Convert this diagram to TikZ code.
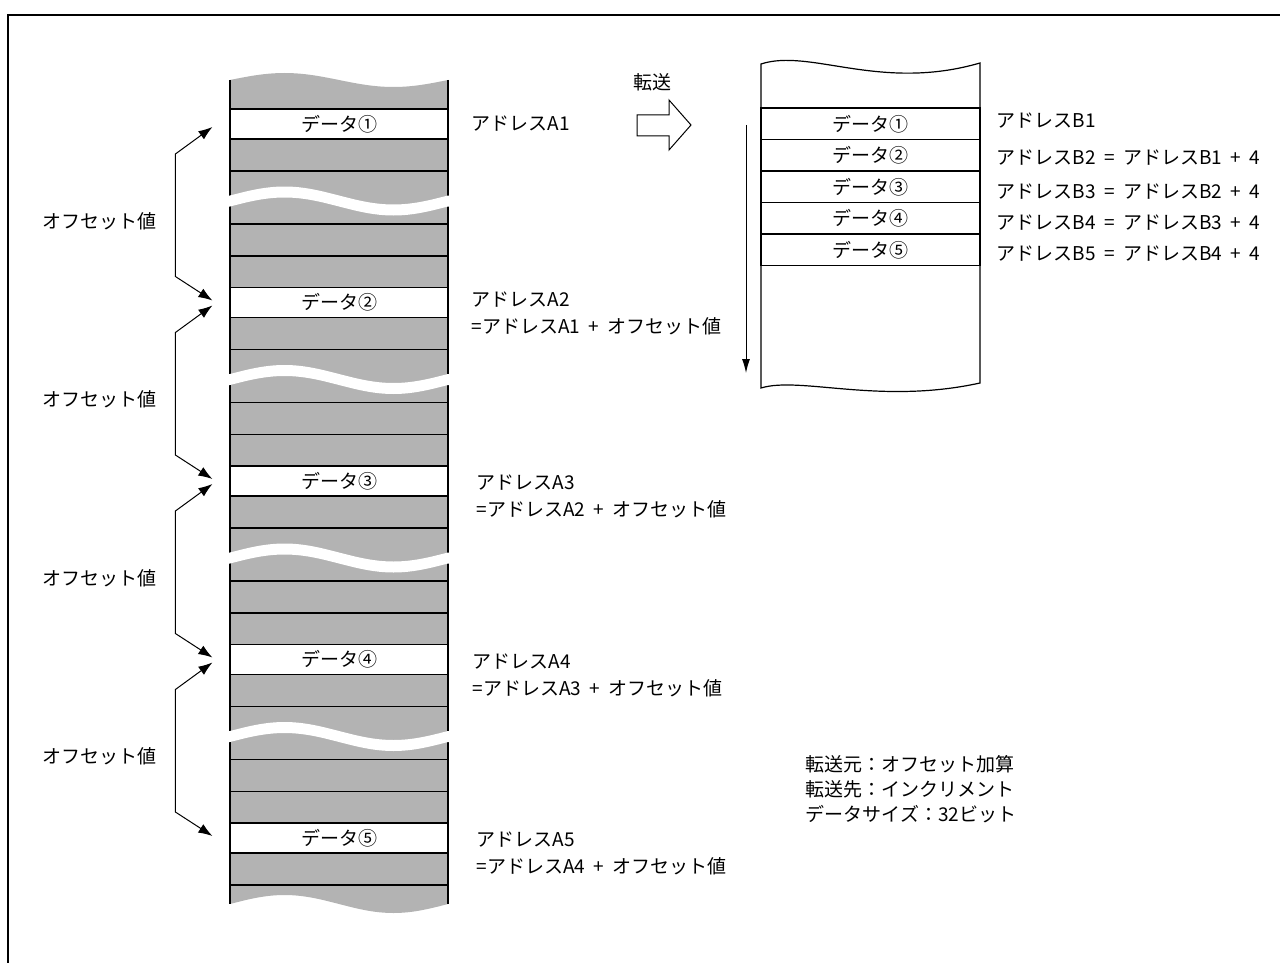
\documentclass[tikz,border=0pt]{standalone}
\usepackage{fontspec}
\setmainfont{Noto Sans CJK JP}[WordSpace=2]
\usetikzlibrary{arrows.meta,calc}
\definecolor{memgray}{RGB}{179,179,179}

\begin{document}
\begin{tikzpicture}[x=0.5pt,y=-0.5pt,line width=0.6pt,font=\fontsize{9.5}{11}\selectfont,
  lbl/.style={inner sep=0pt},
  srcrow/.style={draw,fill=white,minimum width=109pt,minimum height=15pt,inner sep=0pt},
  dstrow/.style={draw,minimum width=109.5pt,minimum height=15.75pt,inner sep=0pt},
  offarrow/.style={line width=0.5pt,{Latex[length=7pt,width=5pt]}-{Latex[length=7pt,width=5pt]}},
  incarrow/.style={line width=0.5pt,-{Latex[length=7pt,width=4pt]}}]
\useasboundingbox (0,0) rectangle (1280,963);

% frame
\draw[line width=1.25pt] (8,975) -- (8,15) -- (1290,15);

% source memory (offset)
\fill[memgray] (230,80) sin (284.5,73) cos (339,80) sin (393.5,87) cos (448,80)
  -- (448,904) sin (393.5,913) cos (339,904) sin (284.5,895) cos (230,904) -- cycle;
\foreach \k/\c in {0/①,1/②,2/③,3/④,4/⑤} {
  \pgfmathsetmacro\D{109+178.5*\k}
  \pgfmathtruncatemacro\n{\k+1}
  \node[srcrow] (a\n) at (339,\D+15) {データ\c};
  \draw (230,\D+62) -- (448,\D+62);
  \ifnum\k<4
    \draw (230,\D+115) -- (448,\D+115) (230,\D+147) -- (448,\D+147);
  \fi
}
\draw (230,80) -- (230,904) (448,80) -- (448,904);
% breaks
\foreach \k in {0,...,3} {
  \pgfmathsetmacro\c{109+178.5*\k+92}
  \fill[white] (226,\c-5.5) -- (230,\c-5.5) sin (284.5,\c-14.5) cos (339,\c-5.5)
    sin (393.5,\c+3.5) cos (448,\c-5.5) -- (452,\c-5.5) -- (452,\c+5.5) -- (448,\c+5.5)
    sin (393.5,\c+14.5) cos (339,\c+5.5) sin (284.5,\c-3.5) cos (230,\c+5.5)
    -- (226,\c+5.5) -- cycle;
}

% offset arrows
\foreach \i/\j in {1/2,2/3,3/4,4/5} {
  \draw[offarrow] ($(a\i.west)+(-17,3)$) -- ($(a\i.west)+(-54,30)$)
    -- ($(a\j.west)+(-54,-26)$) -- ($(a\j.west)+(-17,-2)$);
  \node[lbl] (off\i) at ($(a\i.west)!0.5!(a\j.west)+(-130,8)$) {オフセット値};
}

% source addresses
\node[lbl,anchor=west] (adrA1) at (471,124) {アドレスA1};
\foreach \n/\p/\x/\y in {2/1/471/300,3/2/476/483,4/3/472/662,5/4/476/840} {
  \node[lbl,anchor=west] (adrA\n) at (\x,\y) {アドレスA\n};
  \node[lbl,anchor=west] (eqA\n) at (\x,\y+26) {=アドレスA\p\ + オフセット値};
}

% transfer
\draw[line width=0.5pt] (637,115) -- (669,115) -- (669,100) -- (691,125) -- (669,150)
  -- (669,136) -- (637,136) -- cycle;
\node[lbl] (xfer) at (652,82) {転送};

% destination memory (increment)
\draw[fill=white] (761,64) .. controls (810,48) and (880,92) .. (980,63)
  -- (980,383) .. controls (880,405) and (800,376) .. (761,388) -- cycle;
\foreach \k/\c/\y in {0/①/121,1/②/158,2/③/192,3/④/223,4/⑤/254} {
  \pgfmathtruncatemacro\n{\k+1}
  \node[dstrow] (b\n) at (870.5,108+31.5*\k+15.75) {データ\c};
}
\coordinate (incS) at (746,125);
\coordinate (incE) at (746,373);
\draw[incarrow] (incS) -- (incE);

% destination addresses
\node[lbl,anchor=west] (adrB1) at (996,121) {アドレスB1};
\foreach \n/\p/\y in {2/1/158,3/2/192,4/3/223,5/4/254} {
  \node[lbl,anchor=west] (adrB\n) at (996,\y) {アドレスB\n\ = アドレスB\p\ + 4};
}

% mode
\node[lbl,anchor=west] (src) at (805,764) {転送元：オフセット加算};
\node[lbl,anchor=west] (dst) at (805,789) {転送先：インクリメント};
\node[lbl,anchor=west] (size) at (805,814) {データサイズ：32ビット};
\end{tikzpicture}
\end{document}
